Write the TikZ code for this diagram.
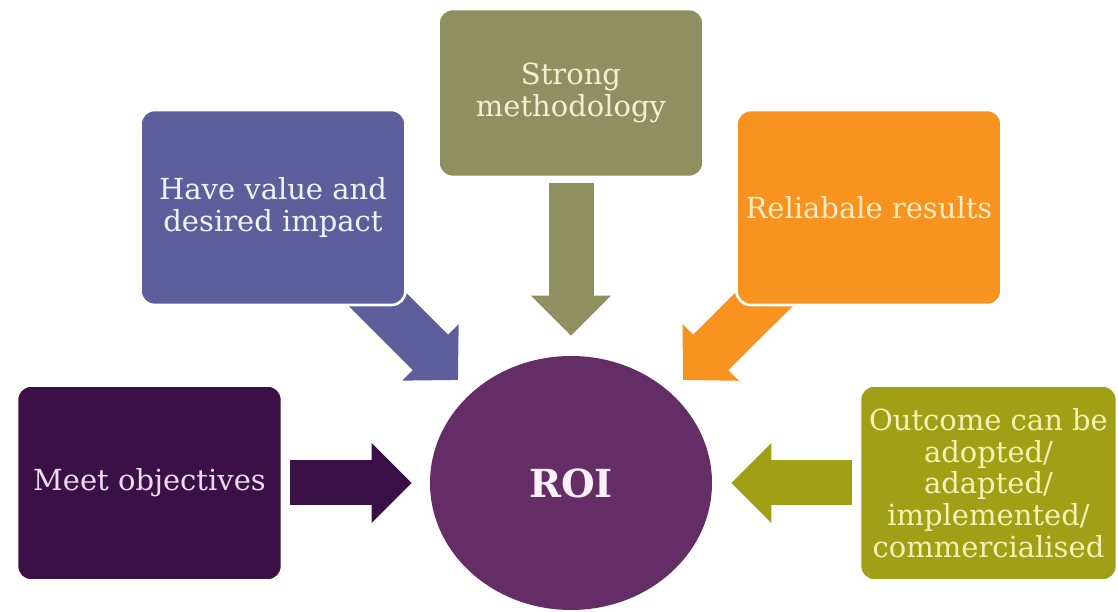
\documentclass[tikz,border=0pt]{standalone}
\usepackage{fontspec}
\setmainfont{DejaVu Serif}
\usetikzlibrary{shapes.geometric,arrows.meta,backgrounds}
\definecolor{meetcol}{HTML}{3B1047}
\definecolor{meettxt}{HTML}{EADCF0}
\definecolor{havecol}{HTML}{5F5E9C}
\definecolor{havetxt}{HTML}{F2F0F8}
\definecolor{strongcol}{HTML}{8F8F5F}
\definecolor{strongtxt}{HTML}{F3EFD6}
\definecolor{relcol}{HTML}{F7931E}
\definecolor{reltxt}{HTML}{FBEBC6}
\definecolor{outcol}{HTML}{A0A017}
\definecolor{outtxt}{HTML}{F5F1B4}
\definecolor{roicol}{HTML}{652D66}
\definecolor{roitxt}{HTML}{FBF0F8}
\tikzset{
	box/.style 2 args={rectangle,rounded corners=0.28cm,fill=#1,draw=white,line width=1.5pt,text=#2,minimum width=5.3cm,minimum height=3.9cm,align=center,font=\fontsize{16.5}{18}\selectfont},
	bigarrow/.style={draw=#1,line width=0.9cm,-{Triangle[length=0.8cm,width=1.55cm]},shorten >=0.36cm},
	diagarrow/.style={draw=#1,line width=1cm,-{Triangle[length=0.78cm,width=1.55cm]}}
}
\begin{document}
\begin{tikzpicture}
						\useasboundingbox (0,0) rectangle (22.36,12.24);
						\node [box={meetcol}{meettxt}] (meet) at (2.99,2.58) {Meet objectives};
						\node [box={havecol}{havetxt}] (have) at (5.46,8.09) {Have value and\\desired impact};
						\node [box={strongcol}{strongtxt},minimum height=3.36cm] (strong) at (11.42,10.38) {Strong\\methodology};
						\node [box={relcol}{reltxt}] (rel) at (17.38,8.09) {Reliabale results};
						\node [box={outcol}{outtxt},minimum width=5.14cm] (outcome) at (19.77,2.58) {Outcome can be\\adopted/\\adapted/\\implemented/\\commercialised};
						\node [ellipse,fill=roicol,minimum width=5.64cm,minimum height=5.08cm,text=roitxt,font=\bfseries\fontsize{22}{26}\selectfont] (roi) at (11.42,2.58) {ROI};
						\coordinate (havetip) at (9.16,4.64);
						\coordinate (reltip) at (13.66,4.64);

						\begin{scope}[on background layer]
						\draw [bigarrow=meetcol,shorten <=0.14cm] (meet) -- (roi);
						\draw [diagarrow=havecol] ([yshift=0.25cm]have.center) -- (havetip);
						\draw [bigarrow=strongcol,shorten <=0.1cm,shorten >=0.4cm] (strong) -- (roi);
						\draw [diagarrow=relcol] ([yshift=0.25cm]rel.center) -- (reltip);
						\draw [bigarrow=outcol,shorten <=0.14cm,shorten >=0.38cm] (outcome) -- (roi);
						\end{scope}
					\end{tikzpicture}
\end{document}
